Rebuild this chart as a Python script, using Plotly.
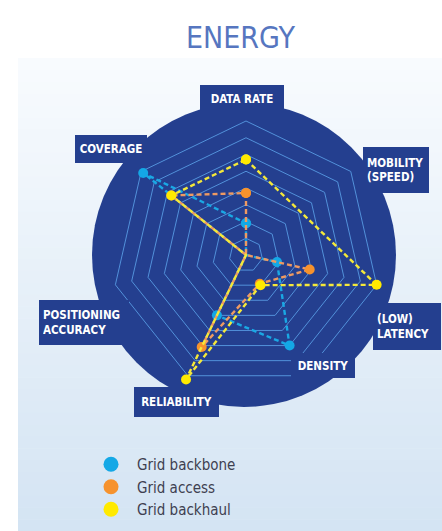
import plotly.graph_objects as go

# ---------------- data ----------------
categories = ["DATA RATE", "MOBILITY (SPEED)", "(LOW) LATENCY", "DENSITY",
              "RELIABILITY", "POSITIONING ACCURACY", "COVERAGE"]
series_names = ["Grid backbone", "Grid access", "Grid backhaul"]
grid_backbone = [1.9, 0, 1.9, 6.0, 4.0, 0, 7.85]
grid_access = [3.7, 0, 3.9, 1.9, 6.1, 0, 5.7]
grid_backhaul = [5.7, None, 8.0, 2.0, 8.25, 0, 5.7]
ring_values = [1, 2, 3, 4, 5, 6, 7, 8]
title_text = "ENERGY"

# ---------------- styling ----------------
W, H = 442, 531
NAVY = "#243f8f"
COLORS = ["#14a8e6", "#f6922d", "#ffea00"]
LINE_COLORS = ["#1aa8e4", "#ee9a62", "#f4e83a"]
LABEL_FONT = "DejaVu Sans Condensed, Liberation Sans Narrow, Arial Narrow, sans-serif"


def px(x):
    return x / W


def py(y):
    return 1 - y / H


fig = go.Figure()

series = [grid_backbone, grid_access, grid_backhaul]
for name, vals, c, lc in zip(series_names, series, COLORS, LINE_COLORS):
    fig.add_trace(go.Scatterpolar(
        r=vals + [vals[0]],
        theta=categories + [categories[0]],
        mode="lines+markers",
        connectgaps=True,
        line=dict(color=lc, width=2.4, dash="5px,3px"),
        marker=dict(color=c, size=10),
        name=name,
        showlegend=False,
        hoverinfo="skip",
    ))
    # legend-only entry (circle marker)
    fig.add_trace(go.Scatterpolar(
        r=[None], theta=[None], mode="markers",
        marker=dict(color=c, size=15),
        name=name, showlegend=True,
    ))

# polar geometry: centre (246,255), value 8 -> 134 px
cx, cy = 246, 255
rmax_val = 8.6
rmax_px = 134 / 8 * rmax_val

fig.update_layout(
    width=W, height=H,
    margin=dict(l=0, r=0, t=0, b=0),
    paper_bgcolor="white",
    polar=dict(
        domain=dict(x=[px(cx - rmax_px), px(cx + rmax_px)],
                    y=[py(cy + rmax_px), py(cy - rmax_px)]),
        bgcolor="rgba(0,0,0,0)",
        gridshape="linear",
        radialaxis=dict(range=[0, rmax_val], tickvals=ring_values,
                        showticklabels=False, ticks="", showline=False,
                        gridcolor="#5291da", gridwidth=1),
        angularaxis=dict(rotation=90, direction="clockwise",
                         categoryorder="array", categoryarray=categories,
                         showgrid=False, showline=False, showticklabels=False,
                         ticks=""),
    ),
    showlegend=True,
    legend=dict(x=px(85), y=py(448), xanchor="left", yanchor="top",
                font=dict(family=LABEL_FONT, size=15, color="#3e4050"),
                bgcolor="rgba(0,0,0,0)", itemsizing="trace", itemwidth=42,
                tracegroupgap=0),
)

# background panel with vertical gradient (bands)
shapes = []
top, bottom = 58, 531
nb = 40
c0 = (248, 251, 254)
c1 = (212, 228, 243)
for i in range(nb):
    t = i / (nb - 1)
    col = tuple(round(a + (b - a) * t) for a, b in zip(c0, c1))
    y0 = top + (bottom - top) * i / nb
    y1 = top + (bottom - top) * (i + 1) / nb + 0.5
    shapes.append(dict(type="rect", xref="paper", yref="paper",
                       x0=px(18), x1=1, y0=py(y1), y1=py(y0),
                       fillcolor="rgb(%d,%d,%d)" % col, line=dict(width=0),
                       layer="below"))
# dark disk
dcx, dcy, dr = 244, 255, 152
shapes.append(dict(type="circle", xref="paper", yref="paper",
                   x0=px(dcx - dr), x1=px(dcx + dr),
                   y0=py(dcy + dr), y1=py(dcy - dr),
                   fillcolor=NAVY, line=dict(width=0), layer="below"))
fig.update_layout(shapes=shapes)

# title
annotations = [dict(text=title_text, x=px(241), y=py(37), xref="paper", yref="paper",
                    showarrow=False, xanchor="center", yanchor="middle",
                    font=dict(family=LABEL_FONT, size=30, color="#5676c0"))]

# category label boxes: (text, centre x, centre y, w, h, align)
label_boxes = [
    ("DATA RATE", 242, 99, 84, 28, "center"),
    ("COVERAGE", 111, 149, 72, 28, "center"),
    ("MOBILITY<br>(SPEED)", 396, 170, 66, 46, "left"),
    ("(LOW)<br>LATENCY", 407, 326.5, 68, 47, "left"),
    ("DENSITY", 323, 365, 64, 25, "center"),
    ("RELIABILITY", 176, 402, 85, 30, "center"),
    ("POSITIONING<br>ACCURACY", 84, 322.5, 90, 45, "left"),
]
pad = 4
for txt, x, y, w, h, al in label_boxes:
    annotations.append(dict(
        text="<b>%s</b>" % txt, x=px(x), y=py(y), xref="paper", yref="paper",
        showarrow=False, xanchor="center", yanchor="middle",
        width=w - 2 * pad, height=h - 2 * pad, borderpad=pad, borderwidth=0,
        bgcolor=NAVY, align=al, valign="middle",
        font=dict(family=LABEL_FONT, size=11.5, color="white")))
fig.update_layout(annotations=annotations)

fig.write_html("out.html", config={"displayModeBar": False},
               post_script="document.body.style.margin='0';")
